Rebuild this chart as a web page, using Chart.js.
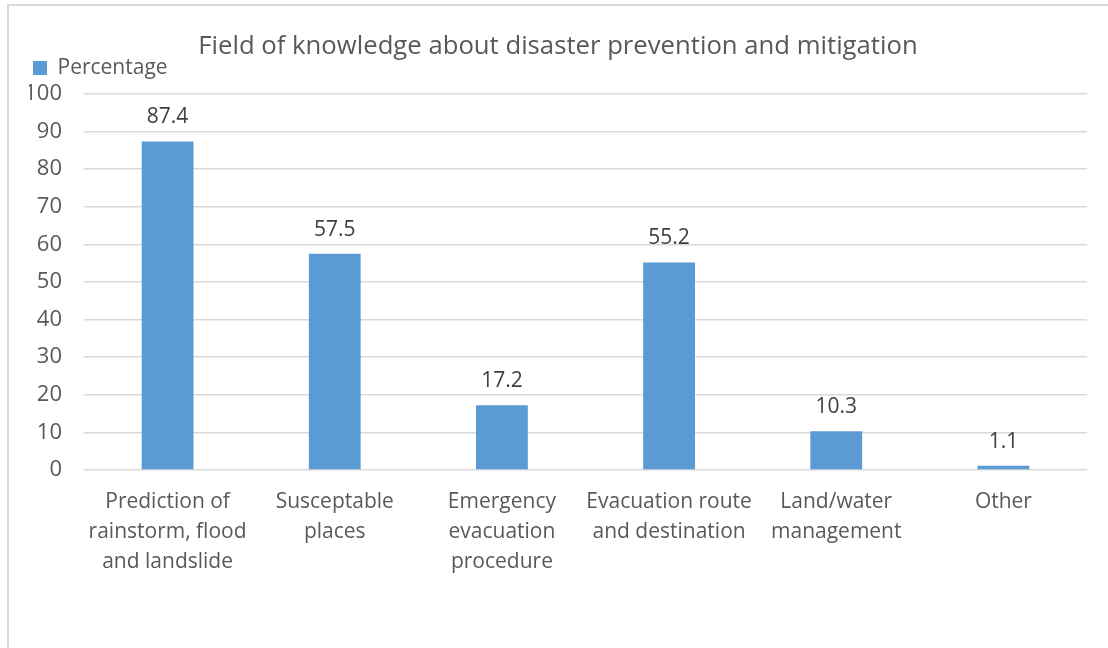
<!DOCTYPE html>
<html>
<head>
<meta charset="utf-8">
<script src="https://cdn.jsdelivr.net/npm/chart.js@4.4.1/dist/chart.umd.min.js"></script>
<style>
  html, body { margin: 0; padding: 0; background: #fff; overflow: hidden; }
  #frame {
    position: absolute; left: 7px; top: 4px; width: 1200px; height: 700px;
    border-left: 2px solid #d9d9d9; border-top: 2px solid #d9d9d9;
  }
  #wrap { position: absolute; left: 0; top: 0; width: 1108px; height: 648px; }
</style>
</head>
<body>
<div id="frame"></div>
<div id="wrap"><canvas id="myChart"></canvas></div>
<script>
  const categories = [
    ['Prediction of', 'rainstorm, flood', 'and landslide'],
    ['Susceptable', 'places'],
    ['Emergency', 'evacuation', 'procedure'],
    ['Evacuation route', 'and destination'],
    ['Land/water', 'management'],
    ['Other'],
  ];
  const percentage = [87.4, 57.5, 17.2, 55.2, 10.3, 1.1];
  const yTicks = [0, 10, 20, 30, 40, 50, 60, 70, 80, 90, 100];

  const FONT = '"Open Sans", sans-serif';
  const TEXT = '#595959';

  // value labels above each bar
  const barLabels = {
    id: 'barLabels',
    afterDatasetsDraw(chart) {
      const { ctx } = chart;
      const meta = chart.getDatasetMeta(0);
      ctx.save();
      ctx.font = '21px ' + FONT;
      ctx.fillStyle = '#404040';
      ctx.textAlign = 'center';
      ctx.textBaseline = 'alphabetic';
      meta.data.forEach((bar, i) => {
        ctx.fillText(String(percentage[i]), bar.x, bar.y - 18);
      });
      ctx.restore();
    }
  };

  // empty strip between the legend and the plot
  const legendGap = {
    id: 'legendGap',
    beforeInit(chart) {
      Chart.layouts.addBox(chart, {
        position: 'top',
        weight: 500,
        fullSize: true,
        options: {},
        left: 0, top: 0, right: 0, bottom: 0, width: 0, height: 0,
        isHorizontal() { return true; },
        update(maxWidth) { this.width = maxWidth; this.height = 5.5; },
        draw() {},
      });
    }
  };

  const ctx = document.getElementById('myChart');
  new Chart(ctx, {
    type: 'bar',
    data: {
      labels: categories,
      datasets: [
        {
          label: 'Percentage',
          data: percentage,
          backgroundColor: '#5b9bd5',
          borderWidth: 0,
          barPercentage: 0.62,
          categoryPercentage: 0.5,
        },
      ],
    },
    options: {
      responsive: true,
      maintainAspectRatio: false,
      animation: false,
      layout: { padding: { left: 29, right: 21, top: 0, bottom: 0 } },
      scales: {
        x: {
          grid: { display: false, drawTicks: false },
          border: { display: false },
          ticks: {
            color: TEXT,
            font: { family: FONT, size: 21, lineHeight: 1.42 },
            padding: 17,
            maxRotation: 0,
            autoSkip: false,
          },
          afterFit(scale) { scale.height = 178; },
        },
        y: {
          min: 0,
          max: 100,
          afterBuildTicks(scale) { scale.ticks = yTicks.map(v => ({ value: v })); },
          grid: { color: '#d9d9d9', lineWidth: 1.5, drawTicks: false },
          border: { display: false },
          ticks: {
            color: TEXT,
            font: { family: FONT, size: 22 },
            padding: 22,
          },
          afterFit(scale) { scale.width = 55; },
        },
      },
      plugins: {
        title: {
          display: true,
          text: 'Field of knowledge about disaster prevention and mitigation',
          color: TEXT,
          font: { family: FONT, size: 25.7, weight: 'normal', lineHeight: 1.2 },
          padding: { top: 31, bottom: -8.3 },
        },
        legend: {
          display: true,
          position: 'top',
          align: 'start',
          labels: {
            color: TEXT,
            font: { family: FONT, size: 21 },
            boxWidth: 14,
            boxHeight: 14,
            padding: 4,
          },
        },
        tooltip: { enabled: false },
      },
    },
    plugins: [legendGap, barLabels],
  });
</script>
</body>
</html>
